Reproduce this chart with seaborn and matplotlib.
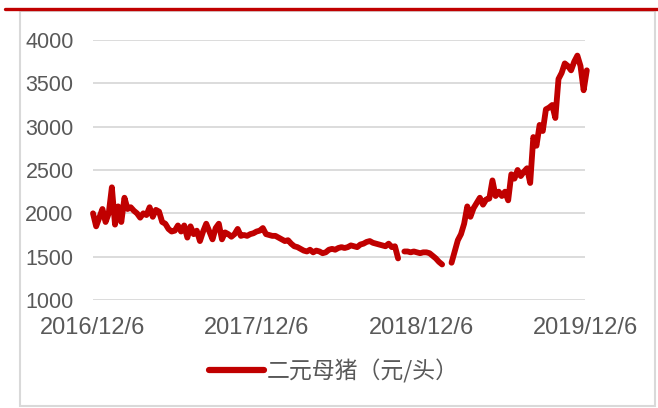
import matplotlib
matplotlib.use("Agg")
import matplotlib.pyplot as plt
from matplotlib.lines import Line2D
from matplotlib.patches import Rectangle
import pandas as pd
import seaborn as sns

# weekly samples of the breeding sow price, starting 2016/12/6 (None = no quote)
start_date = "2016-12-06"
sow_price = [
    2000, 1850, 1950, 2050, 1900, 2000, 2300, 1870, 2080, 1900,
    2180, 2050, 2070, 2030, 2000, 1950, 2000, 1980, 2070, 1960,
    2040, 2020, 1900, 1880, 1820, 1790, 1800, 1860, 1790, 1860,
    1720, 1850, 1760, 1800, 1680, 1790, 1880, 1790, 1700, 1830,
    1880, 1700, 1780, 1760, 1730, 1760, 1820, 1740, 1750, 1740,
    1760, 1770, 1790, 1800, 1830, 1760, 1750, 1740, 1740, 1720,
    1700, 1680, 1690, 1650, 1620, 1610, 1590, 1570, 1560, 1580,
    1550, 1570, 1560, 1540, 1550, 1580, 1590, 1580, 1600, 1610,
    1600, 1610, 1630, 1620, 1610, 1640, 1650, 1670, 1680, 1660,
    1650, 1640, 1630, 1620, 1650, 1610, 1620, 1480, None, 1560,
    1560, 1550, 1560, 1550, 1540, 1550, 1550, 1540, 1510, 1480,
    1440, 1410, None, None, 1430, 1560, 1690, 1760, 1880, 2080,
    1960, 2060, 2120, 2180, 2100, 2160, 2170, 2380, 2200, 2250,
    2200, 2250, 2150, 2450, 2400, 2500, 2430, 2480, 2520, 2350,
    2880, 2780, 3020, 2950, 3200, 3220, 3250, 3100, 3550, 3620,
    3730, 3700, 3650, 3750, 3820, 3700, 3420, 3650,
]
tick_dates = ["2016-12-06", "2017-12-06", "2018-12-06", "2019-12-06"]
tick_labels = ["2016/12/6", "2017/12/6", "2018/12/6", "2019/12/6"]
series_name = "二元母猪（元/头）"

red = "#C00000"
grey_text = "#595959"

df = pd.DataFrame({
    "date": pd.date_range(start_date, periods=len(sow_price), freq="7D"),
    "price": pd.Series(sow_price, dtype=float),
})
# split into runs so the gaps stay open
df["seg"] = df["price"].isna().cumsum()
df = df.dropna()

sns.set_style("white")
plt.rcParams["font.family"] = ["Liberation Sans", "Noto Sans CJK SC", "DejaVu Sans"]

fig = plt.figure(figsize=(6.58, 4.08), dpi=100)
ax = fig.add_axes([93 / 658, 1 - 300 / 408, 492 / 658, 260 / 408])

sns.lineplot(data=df, x="date", y="price", units="seg", estimator=None,
             color=red, linewidth=4.2, ax=ax, legend=False,
             solid_capstyle="round", solid_joinstyle="round")
for ln in ax.lines:
    ln.set_clip_on(False)

ax.set_ylim(1000, 4000)
ax.set_yticks(range(1000, 4001, 500))
ax.set_xlim(pd.Timestamp(tick_dates[0]), pd.Timestamp(tick_dates[-1]))
ax.set_xticks(pd.to_datetime(tick_dates))
ax.set_xticklabels(tick_labels)
ax.grid(axis="y", color="#D9D9D9", linewidth=1.3)
ax.set_axisbelow(True)
for s in ax.spines.values():
    s.set_visible(False)
ax.tick_params(axis="y", length=0, pad=14, labelsize=15.5, labelcolor=grey_text)
ax.tick_params(axis="x", length=0, pad=12, labelsize=17, labelcolor=grey_text)
ax.set_xlabel("")
ax.set_ylabel("")

handle = Line2D([], [], color=red, linewidth=4.5, solid_capstyle="round")
leg = fig.legend([handle], [series_name], loc="center",
                 bbox_to_anchor=(334 / 658, 1 - 371 / 408), frameon=False,
                 handlelength=2.4, handletextpad=0.15,
                 prop={"family": ["Noto Sans CJK SC"], "size": 16.5})
for t in leg.get_texts():
    t.set_color(grey_text)

# outer chart border and red top rule
fig.patches.append(Rectangle((20 / 658, 1 - 406 / 408), 635 / 658, 395 / 408,
                             transform=fig.transFigure, fill=False,
                             edgecolor="#D9D9D9", linewidth=1.5))
fig.add_artist(Line2D([5 / 658, 1], [1 - 8.5 / 408] * 2, transform=fig.transFigure,
                      color=red, linewidth=2.4))

fig.savefig("out.png", dpi=100)
